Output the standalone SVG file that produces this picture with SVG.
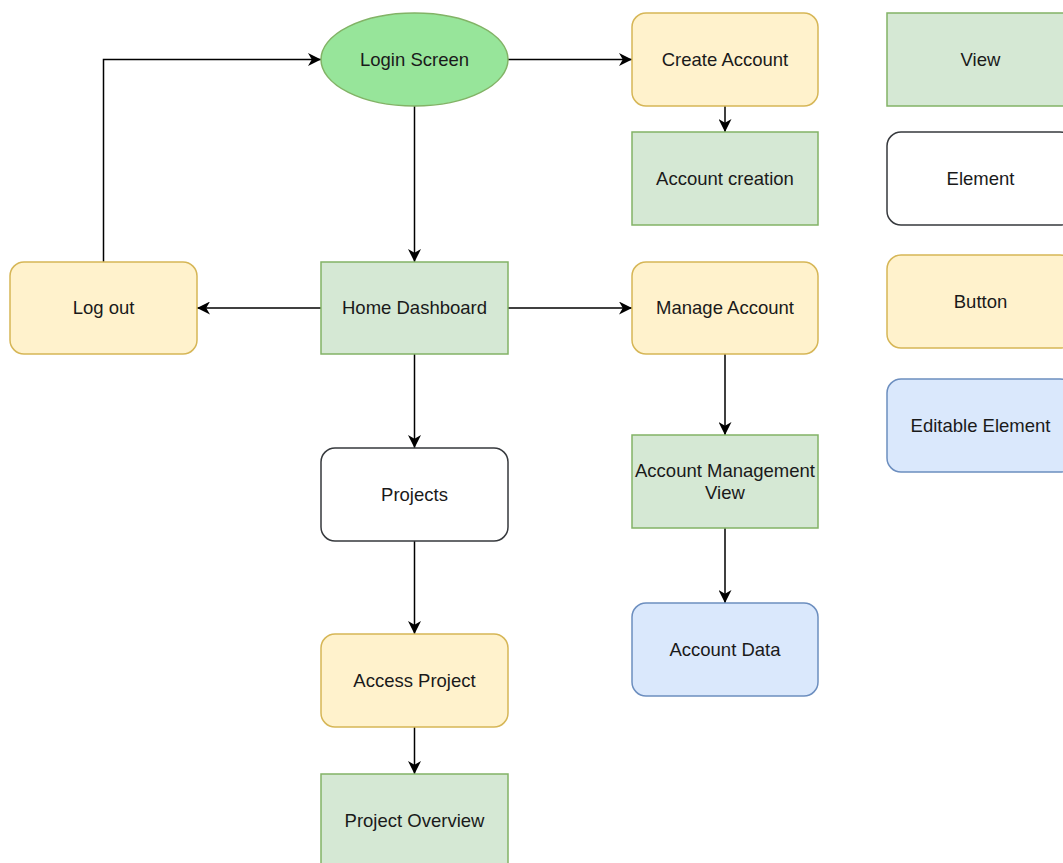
<svg xmlns="http://www.w3.org/2000/svg" width="1063" height="863" viewBox="0 0 1063 863">
  <style>
    .view { fill: #d5e8d4; stroke: #82b366; stroke-width: 1.5; }
    .button { fill: #fff2cc; stroke: #d6b656; stroke-width: 1.5; }
    .element { fill: #ffffff; stroke: #36393d; stroke-width: 1.5; }
    .editable { fill: #dae8fc; stroke: #6c8ebf; stroke-width: 1.5; }
    .start { fill: #97e59a; stroke: #82b366; stroke-width: 1.5; }
    .label { font-family: "Liberation Sans", Arial, sans-serif; font-size: 18.5px; fill: #1a1a1a; text-anchor: middle; }
    .edge { fill: none; stroke: #000000; stroke-width: 1.5; }
  </style>
  <defs>
    <marker id="arrow" markerUnits="userSpaceOnUse" markerWidth="14" markerHeight="13" refX="13" refY="6.5" orient="auto">
      <path d="M0,0 L13,6.5 L0,13 L3.8,6.5 Z" fill="#000000"/>
    </marker>
  </defs>
  <rect width="1063" height="863" fill="#ffffff"/>

  <g id="connectors">
    <path class="edge" d="M508,59.5 H632" marker-end="url(#arrow)"/>
    <path class="edge" d="M725,106 V132" marker-end="url(#arrow)"/>
    <path class="edge" d="M414.5,106 V262" marker-end="url(#arrow)"/>
    <path class="edge" d="M321,308 H197" marker-end="url(#arrow)"/>
    <path class="edge" d="M508,308 H632" marker-end="url(#arrow)"/>
    <path class="edge" d="M103.5,262 V59.5 H321" marker-end="url(#arrow)"/>
    <path class="edge" d="M414.5,354 V448" marker-end="url(#arrow)"/>
    <path class="edge" d="M414.5,541 V634" marker-end="url(#arrow)"/>
    <path class="edge" d="M414.5,727 V774" marker-end="url(#arrow)"/>
    <path class="edge" d="M725,354 V435" marker-end="url(#arrow)"/>
    <path class="edge" d="M725,528 V603" marker-end="url(#arrow)"/>
  </g>

  <g id="login-screen">
    <ellipse class="start" cx="414.5" cy="59.5" rx="93.5" ry="46.5"/>
    <text class="label" x="414.5" y="65.5">Login Screen</text>
  </g>
  <g id="create-account">
    <rect class="button" x="632" y="13" width="186" height="93" rx="14"/>
    <text class="label" x="725" y="65.5">Create Account</text>
  </g>
  <g id="account-creation">
    <rect class="view" x="632" y="132" width="186" height="93"/>
    <text class="label" x="725" y="184.5">Account creation</text>
  </g>
  <g id="log-out">
    <rect class="button" x="10" y="262" width="187" height="92" rx="14"/>
    <text class="label" x="103.5" y="314">Log out</text>
  </g>
  <g id="home-dashboard">
    <rect class="view" x="321" y="262" width="187" height="92"/>
    <text class="label" x="414.5" y="314">Home Dashboard</text>
  </g>
  <g id="manage-account">
    <rect class="button" x="632" y="262" width="186" height="92" rx="14"/>
    <text class="label" x="725" y="314">Manage Account</text>
  </g>
  <g id="projects">
    <rect class="element" x="321" y="448" width="187" height="93" rx="14"/>
    <text class="label" x="414.5" y="500.5">Projects</text>
  </g>
  <g id="account-management-view">
    <rect class="view" x="632" y="435" width="186" height="93"/>
    <text class="label" x="725" y="477">Account Management</text>
    <text class="label" x="725" y="499">View</text>
  </g>
  <g id="account-data">
    <rect class="editable" x="632" y="603" width="186" height="93" rx="14"/>
    <text class="label" x="725" y="655.5">Account Data</text>
  </g>
  <g id="access-project">
    <rect class="button" x="321" y="634" width="187" height="93" rx="14"/>
    <text class="label" x="414.5" y="686.5">Access Project</text>
  </g>
  <g id="project-overview">
    <rect class="view" x="321" y="774" width="187" height="93"/>
    <text class="label" x="414.5" y="826.5">Project Overview</text>
  </g>

  <g id="legend-view">
    <rect class="view" x="887" y="13" width="187" height="93"/>
    <text class="label" x="980.5" y="65.5">View</text>
  </g>
  <g id="legend-element">
    <rect class="element" x="887" y="132" width="187" height="93" rx="14"/>
    <text class="label" x="980.5" y="184.5">Element</text>
  </g>
  <g id="legend-button">
    <rect class="button" x="887" y="255" width="187" height="93" rx="14"/>
    <text class="label" x="980.5" y="307.5">Button</text>
  </g>
  <g id="legend-editable">
    <rect class="editable" x="887" y="379" width="187" height="93" rx="14"/>
    <text class="label" x="980.5" y="431.5">Editable Element</text>
  </g>
</svg>
